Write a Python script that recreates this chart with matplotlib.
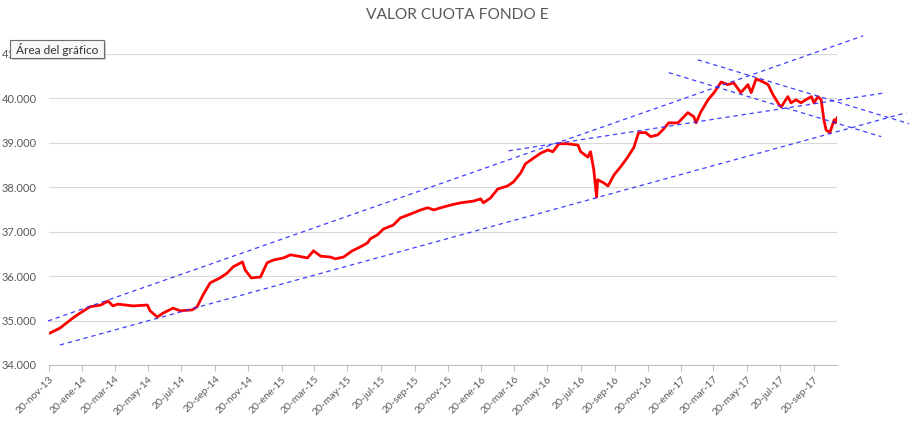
import matplotlib
matplotlib.use("Agg")
import matplotlib.pyplot as plt
import matplotlib.dates as mdates
from matplotlib.patches import Rectangle
import pandas as pd

# valor cuota fondo E (pesos)
fechas = [
    "2013-11-22", "2013-12-10", "2014-01-03", "2014-01-16", "2014-02-03", "2014-02-23",
    "2014-03-08", "2014-03-17", "2014-03-26", "2014-04-23", "2014-05-19", "2014-05-24",
    "2014-06-06", "2014-06-17", "2014-07-05", "2014-07-18", "2014-08-09", "2014-08-18",
    "2014-08-29", "2014-09-11", "2014-09-29", "2014-10-12", "2014-10-23", "2014-11-09",
    "2014-11-14", "2014-11-25", "2014-12-12", "2014-12-24", "2015-01-04", "2015-01-23",
    "2015-02-05", "2015-02-19", "2015-03-08", "2015-03-19", "2015-04-01", "2015-04-19",
    "2015-04-28", "2015-05-13", "2015-05-29", "2015-06-13", "2015-06-26", "2015-07-01",
    "2015-07-14", "2015-07-25", "2015-08-12", "2015-08-25", "2015-09-13", "2015-10-01",
    "2015-10-14", "2015-10-25", "2015-11-07", "2015-11-25", "2015-12-13", "2016-01-06",
    "2016-01-19", "2016-01-24", "2016-02-06", "2016-02-19", "2016-03-08", "2016-03-19",
    "2016-04-01", "2016-04-10", "2016-04-25", "2016-05-08", "2016-05-21", "2016-05-30",
    "2016-06-10", "2016-06-26", "2016-07-15", "2016-07-20", "2016-08-02", "2016-08-07",
    "2016-08-13", "2016-08-18", "2016-08-20", "2016-08-31", "2016-09-08", "2016-09-19",
    "2016-10-01", "2016-10-14", "2016-10-25", "2016-11-03", "2016-11-16", "2016-11-25",
    "2016-12-08", "2016-12-17", "2016-12-28", "2017-01-14", "2017-02-01", "2017-02-12",
    "2017-02-16", "2017-02-25", "2017-03-10", "2017-03-21", "2017-04-03", "2017-04-15",
    "2017-04-26", "2017-05-09", "2017-05-22", "2017-05-28", "2017-06-06", "2017-06-19",
    "2017-06-28", "2017-07-07", "2017-07-18", "2017-07-22", "2017-08-03", "2017-08-09",
    "2017-08-18", "2017-08-27", "2017-09-05", "2017-09-15", "2017-09-20", "2017-09-27",
    "2017-10-03", "2017-10-08", "2017-10-12", "2017-10-19", "2017-10-25", "2017-10-27",
    "2017-10-29", "2017-11-01",
]
valores = [
    34720, 34830, 35060, 35170, 35310, 35350,
    35440, 35330, 35370, 35330, 35350, 35220,
    35080, 35170, 35280, 35220, 35240, 35310,
    35580, 35850, 35960, 36070, 36210, 36320,
    36140, 35960, 35980, 36300, 36360, 36410,
    36480, 36450, 36410, 36570, 36450, 36430,
    36390, 36430, 36570, 36660, 36750, 36840,
    36930, 37060, 37150, 37310, 37400, 37490,
    37540, 37490, 37540, 37600, 37650, 37690,
    37740, 37650, 37760, 37960, 38030, 38120,
    38320, 38530, 38660, 38770, 38840, 38800,
    38980, 38980, 38950, 38800, 38680, 38800,
    38390, 37780, 38170, 38100, 38030, 38280,
    38460, 38680, 38890, 39230, 39230, 39140,
    39180, 39290, 39450, 39450, 39680, 39590,
    39450, 39700, 39970, 40130, 40370, 40310,
    40350, 40130, 40310, 40130, 40440, 40370,
    40310, 40080, 39860, 39810, 40040, 39900,
    39970, 39900, 39970, 40040, 39900, 40040,
    39970, 39520, 39290, 39230, 39450, 39520,
    39450, 39560,
]

# líneas de tendencia dibujadas a mano: (fecha inicio, valor inicio, fecha fin, valor fin)
tendencias = [
    ("2013-11-18", 34990, "2017-12-19", 41410),
    ("2013-12-10", 34450, "2018-03-08", 39680),
    ("2016-03-10", 38820, "2018-01-30", 40130),
    ("2017-02-19", 40870, "2018-03-13", 39430),
    ("2016-12-28", 40580, "2018-01-21", 39140),
]

etiquetas_x = [
    "20-nov-13", "20-ene-14", "20-mar-14", "20-may-14", "20-jul-14", "20-sep-14",
    "20-nov-14", "20-ene-15", "20-mar-15", "20-may-15", "20-jul-15", "20-sep-15",
    "20-nov-15", "20-ene-16", "20-mar-16", "20-may-16", "20-jul-16", "20-sep-16",
    "20-nov-16", "20-ene-17", "20-mar-17", "20-may-17", "20-jul-17", "20-sep-17",
]
meses = {"ene": 1, "mar": 3, "may": 5, "jul": 7, "sep": 9, "nov": 11}
y_ticks = [34000, 35000, 36000, 37000, 38000, 39000, 40000, 41000]

GRIS = "#595959"
plt.rcParams["font.family"] = ["Lato", "DejaVu Sans"]

fechas = pd.to_datetime(fechas)
pos_x = []
for e in etiquetas_x:
    d, m, a = e.split("-")
    pos_x.append(pd.Timestamp(2000 + int(a), meses[m], int(d)))

fig = plt.figure(figsize=(9.13, 4.24), dpi=100)
ax = fig.add_axes([49 / 913, 1 - 365 / 424, (837 - 49) / 913, (365 - 54) / 424])

ax.plot(fechas, valores, color="#ff0000", lw=2, zorder=3)
for f0, v0, f1, v1 in tendencias:
    ax.plot(pd.to_datetime([f0, f1]), [v0, v1], color="#2a2aff", lw=0.9,
            ls=(0, (3.5, 3)), alpha=0.9, clip_on=False, zorder=4)

ax.set_xlim(pos_x[0], fechas[-1])
ax.set_ylim(y_ticks[0], y_ticks[-1])
ax.set_yticks(y_ticks)
ax.set_yticklabels([f"{v:,.0f}".replace(",", ".") for v in y_ticks],
                   fontsize=8, color=GRIS)
ax.set_xticks(pos_x)
ax.set_xticklabels(etiquetas_x, rotation=45, ha="right", va="top",
                   rotation_mode="anchor", fontsize=7.5, color=GRIS)
ax.tick_params(axis="y", length=0, pad=9)
ax.tick_params(axis="x", length=4, width=0.8, color="#bfbfbf", pad=3)

ax.grid(axis="y", color="#d9d9d9", lw=0.8)
ax.set_axisbelow(True)
for s in ["left", "right", "top"]:
    ax.spines[s].set_visible(False)
ax.spines["bottom"].set_color("#bfbfbf")
ax.spines["bottom"].set_linewidth(0.8)

fig.text(457 / 913, 1 - 15 / 424, "VALOR CUOTA FONDO E", ha="center", va="center",
         fontsize=11.2, color=GRIS)

# recuadro "Área del gráfico" (tooltip de Excel)
x0, y0, w, h = 10 / 913, 1 - 58 / 424, 94 / 913, 18 / 424
fig.patches.append(Rectangle((x0 + 2 / 913, y0 - 2 / 424), w, h, transform=fig.transFigure,
                             facecolor="#a0a0a0", edgecolor="none", alpha=0.5, zorder=10))
fig.patches.append(Rectangle((x0, y0), w, h, transform=fig.transFigure,
                             facecolor="#f7f7fa", edgecolor="#6e6e6e", lw=0.8, zorder=11))
fig.text(x0 + w / 2, y0 + h / 2, "Área del gráfico", ha="center", va="center",
         fontsize=8.6, color="#333333", zorder=12)

fig.savefig("out.png", dpi=100, facecolor="white")
